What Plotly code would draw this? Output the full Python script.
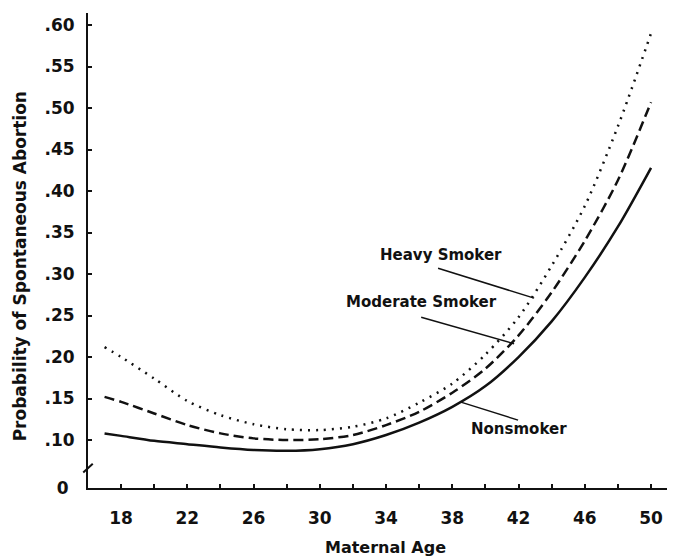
import plotly.graph_objects as go

# Maternal age (years)
ages = [17, 18, 20, 22, 24, 26, 28, 30, 32, 34, 36, 38, 40, 42, 44, 46, 48, 50]

# Probability of spontaneous abortion
nonsmoker = [0.108, 0.105, 0.099, 0.095, 0.091, 0.088, 0.087, 0.089, 0.095, 0.106,
             0.121, 0.140, 0.165, 0.200, 0.243, 0.296, 0.357, 0.428]
moderate = [0.152, 0.146, 0.132, 0.118, 0.108, 0.102, 0.100, 0.101, 0.106, 0.118,
            0.134, 0.157, 0.186, 0.226, 0.278, 0.340, 0.413, 0.507]
heavy = [0.212, 0.200, 0.174, 0.147, 0.130, 0.119, 0.113, 0.112, 0.116, 0.126,
         0.145, 0.168, 0.203, 0.248, 0.310, 0.382, 0.478, 0.590]

series_names = ["Nonsmoker", "Moderate Smoker", "Heavy Smoker"]

x_tickvals = [18, 22, 26, 30, 34, 38, 42, 46, 50]
x_ticktext = ["18", "22", "26", "30", "34", "38", "42", "46", "50"]

# broken y axis: "0" is drawn just below the break
ZERO_POS = 0.0422
y_tickvals = [ZERO_POS, 0.10, 0.15, 0.20, 0.25, 0.30, 0.35, 0.40, 0.45, 0.50, 0.55, 0.60]
y_ticktext = ["0\u00a0", ".10", ".15", ".20", ".25", ".30", ".35", ".40", ".45", ".50", ".55", ".60"]

FONT = "DejaVu Sans"
INK = "#111111"

fig = go.Figure()
fig.add_trace(go.Scatter(x=ages, y=nonsmoker, name=series_names[0], mode="lines",
                         line=dict(color=INK, width=2.5, shape="spline", smoothing=0.8)))
fig.add_trace(go.Scatter(x=ages, y=moderate, name=series_names[1], mode="lines",
                         line=dict(color=INK, width=2.5, dash="10px,5px", shape="spline", smoothing=0.8)))
fig.add_trace(go.Scatter(x=ages, y=heavy, name=series_names[2], mode="lines",
                         line=dict(color=INK, width=2.5, dash="2px,6px", shape="spline", smoothing=0.8)))

# curve labels with leader lines
labels = [
    dict(text="Heavy Smoker", tx=33.52, ty=0.323, l0=(37.14, 0.307), l1=(42.94, 0.271)),
    dict(text="Moderate Smoker", tx=31.47, ty=0.266, l0=(36.12, 0.248), l1=(41.73, 0.216)),
    dict(text="Nonsmoker", tx=39.0, ty=0.113, l0=(38.47, 0.146), l1=(41.97, 0.124)),
]
for lb in labels:
    fig.add_annotation(x=lb["tx"], y=lb["ty"], text=lb["text"], showarrow=False,
                       xanchor="left", yanchor="middle",
                       font=dict(family=FONT, size=15, color=INK, weight="bold"))
    fig.add_shape(type="line", x0=lb["l0"][0], y0=lb["l0"][1], x1=lb["l1"][0], y1=lb["l1"][1],
                  xref="x", yref="y", line=dict(color=INK, width=1.5))

# y-axis title (placed slightly below the plot's centre, as in the original)
fig.add_annotation(x=-0.114, y=0.467, xref="paper", yref="paper",
                   text="Probability of Spontaneous Abortion", textangle=-90, showarrow=False,
                   xanchor="center", yanchor="middle",
                   font=dict(family=FONT, size=17, color=INK, weight="bold"))

# axis break mark
fig.add_shape(type="line", xref="paper", yref="y", x0=-0.008, y0=0.0610, x1=0.008, y1=0.0715,
              line=dict(color=INK, width=2))

fig.update_layout(
    width=675, height=559,
    margin=dict(l=80, r=0, t=5, b=79, autoexpand=False),
    paper_bgcolor="white", plot_bgcolor="white",
    showlegend=False,
    font=dict(family=FONT, color=INK),
)
fig.update_xaxes(
    range=[16, 51.93], showgrid=False, zeroline=False,
    showline=True, linecolor=INK, linewidth=2,
    tickmode="array", tickvals=x_tickvals, ticktext=x_ticktext,
    ticks="inside", ticklen=4, tickwidth=1.5, tickcolor=INK,
    minor=dict(dtick=2, tick0=18, ticks="inside", ticklen=4, tickwidth=1.5, tickcolor=INK, showgrid=False),
    tickfont=dict(family=FONT, size=17, color=INK, weight="bold"),
    ticklabelstandoff=14,
    title=dict(text="Maternal Age", font=dict(family=FONT, size=16, color=INK, weight="bold"), standoff=14),
    automargin=False,
)
fig.update_yaxes(
    range=[ZERO_POS, 0.6145], showgrid=False, zeroline=False,
    showline=True, linecolor=INK, linewidth=2,
    tickmode="array", tickvals=y_tickvals, ticktext=y_ticktext,
    ticks="inside", ticklen=4, tickwidth=1.5, tickcolor=INK,
    tickfont=dict(family=FONT, size=17, color=INK, weight="bold"),
    ticklabelstandoff=8,
    automargin=False,
)

fig.write_html("out.html")
